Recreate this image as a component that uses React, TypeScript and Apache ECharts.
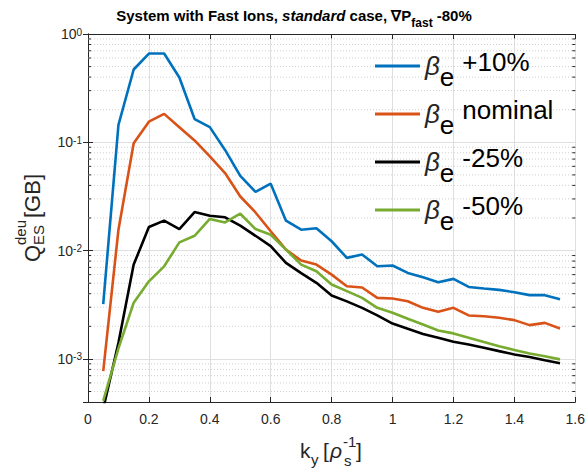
import React, { useEffect, useRef } from "react";
import * as echarts from "echarts";

const kY = [0.05, 0.1, 0.15, 0.2, 0.25, 0.3, 0.35, 0.4, 0.45, 0.5, 0.55, 0.6, 0.65, 0.7, 0.75, 0.8, 0.85, 0.9, 0.95, 1.0, 1.05, 1.1, 1.15, 1.2, 1.25, 1.3, 1.35, 1.4, 1.45, 1.5, 1.55];

const betaPlus10 = [3.2e-3, 0.145, 0.47, 0.66, 0.66, 0.396, 0.164, 0.138, 0.085, 0.049, 0.0348, 0.0415, 0.0189, 0.0156, 0.0161, 0.0122, 0.00857, 0.0092, 0.00716, 0.00728, 0.00622, 0.00567, 0.0051, 0.00548, 0.00462, 0.00446, 0.00434, 0.00413, 0.00388, 0.00388, 0.00356];
const betaNominal = [7.7e-4, 0.0156, 0.098, 0.155, 0.183, 0.138, 0.104, 0.074, 0.052, 0.0316, 0.0225, 0.0151, 0.0102, 0.0081, 0.00743, 0.006, 0.00469, 0.00456, 0.00366, 0.00361, 0.00341, 0.00296, 0.00272, 0.00296, 0.00252, 0.00248, 0.0024, 0.00228, 0.00205, 0.00215, 0.00191];
const betaMinus25 = [3.45e-4, 1.41e-3, 0.00743, 0.0165, 0.0189, 0.0158, 0.0227, 0.021, 0.0203, 0.017, 0.0137, 0.011, 0.0077, 0.0062, 0.00504, 0.00385, 0.0034, 0.00296, 0.00252, 0.00212, 0.0019, 0.0017, 0.00157, 0.00144, 0.00136, 0.00127, 0.00118, 0.0011, 0.00104, 0.00097, 0.00091];
const betaMinus50 = [4.1e-4, 1.25e-3, 0.0033, 0.0052, 0.00716, 0.0119, 0.0137, 0.0196, 0.0182, 0.0219, 0.0158, 0.014, 0.0102, 0.00743, 0.00645, 0.00486, 0.00422, 0.00366, 0.00296, 0.00267, 0.00235, 0.00208, 0.00183, 0.00172, 0.00157, 0.00143, 0.00131, 0.00121, 0.00112, 0.00106, 0.00099];

const seriesNames = ["+10%", "nominal", "-25%", "-50%"];
const seriesColors = ["#0072BD", "#D95319", "#000000", "#77AC30"];
const seriesValues = [betaPlus10, betaNominal, betaMinus25, betaMinus50];

const X_MIN = 0;
const X_MAX = 1.6;
const X_STEP = 0.2;
const Y_MIN = 4e-4;
const Y_MAX = 1;
const minorMultipliers = [2, 3, 4, 5, 6, 7, 8, 9];
const decades = [1e-4, 1e-3, 1e-2, 1e-1];

const FONT = "'Liberation Sans', Arial, Helvetica, sans-serif";
const AX = "#262626";

export default function App() {
  const ref = useRef<HTMLDivElement>(null);
  useEffect(() => {
    document.body.style.margin = "0";
    const chart = echarts.init(ref.current!, null, { renderer: "svg" });

    const minorVals: number[] = [];
    decades.forEach((d) =>
      minorMultipliers.forEach((m) => {
        const v = d * m;
        if (v > Y_MIN * 1.0001 && v < Y_MAX) minorVals.push(v);
      })
    );

    const yFmt = (v: number) => {
      const e = Math.log10(v);
      const r = Math.round(e);
      if (Math.abs(e - r) > 1e-6) return "";
      return `{b|10}{s|${r}}`;
    };

    const lineSeries = seriesNames.map((n, i) => ({
      name: n,
      type: "line",
      data: kY.map((k, j) => [k, seriesValues[i][j]]),
      showSymbol: false,
      symbol: "none",
      lineStyle: { color: seriesColors[i], width: 2.6 },
      itemStyle: { color: seriesColors[i] },
      z: 5,
      clip: true,
    }));

    const option: any = {
      animation: false,
      backgroundColor: "#ffffff",
      textStyle: { fontFamily: FONT },
      title: {
        left: "center",
        top: 2,
        padding: 0,
        text: "{a|System with Fast Ions, }{i|standard}{a| case, ∇P}{s|fast}{a| -80%}",
        textStyle: {
          rich: {
            a: { fontSize: 15, fontWeight: "bold", fontFamily: FONT, color: "#000", lineHeight: 26 },
            i: { fontSize: 15, fontWeight: "bold", fontStyle: "italic", fontFamily: FONT, color: "#000", lineHeight: 26 },
            s: { fontSize: 12, fontWeight: "bold", fontFamily: FONT, color: "#000", lineHeight: 12, padding: [16, 0, 0, 0] },
          },
        },
      },
      grid: { left: 88, top: 34, right: 12, bottom: 68, containLabel: false },
      legend: {
        orient: "vertical",
        left: 375,
        top: 42,
        padding: 0,
        itemWidth: 45,
        itemHeight: 3,
        itemGap: 0,
        icon: "rect",
        selectedMode: false,
        data: seriesNames,
        formatter: (n: string) => `{b|β}{e|e}{t|${n}}`,
        textStyle: {
          rich: {
            b: { fontSize: 26, fontStyle: "italic", fontFamily: FONT, color: "#262626", lineHeight: 30 },
            e: { fontSize: 26, fontFamily: FONT, color: "#000", lineHeight: 26, padding: [22, 8, 0, 0] },
            t: { fontSize: 26, fontFamily: FONT, color: "#000", lineHeight: 26, padding: [0, 0, 8, 0] },
          },
        },
      },
      xAxis: [
        {
          type: "value",
          min: X_MIN,
          max: X_MAX,
          interval: X_STEP,
          position: "bottom",
          axisLine: { show: true, lineStyle: { color: AX, width: 1 } },
          axisTick: { show: true, inside: true, length: 5, lineStyle: { color: AX } },
          axisLabel: { color: AX, fontSize: 14, margin: 10, fontFamily: FONT },
          splitLine: { show: true, lineStyle: { color: "#dfdfdf", width: 1 } },
        },
        {
          type: "value",
          min: X_MIN,
          max: X_MAX,
          interval: X_STEP,
          position: "top",
          axisLine: { show: true, lineStyle: { color: AX, width: 1 } },
          axisTick: { show: true, inside: true, length: 5, lineStyle: { color: AX } },
          axisLabel: { show: false },
          splitLine: { show: false },
        },
      ],
      yAxis: [
        {
          type: "log",
          logBase: 10,
          min: Y_MIN,
          max: Y_MAX,
          position: "left",
          axisLine: { show: true, lineStyle: { color: AX, width: 1 } },
          axisTick: { show: true, inside: true, length: 5, lineStyle: { color: AX } },
          axisLabel: {
            margin: 6,
            formatter: yFmt,
            rich: {
              b: { fontSize: 14, color: AX, fontFamily: FONT, lineHeight: 14, verticalAlign: "bottom", padding: [6, 0, 0, 0] },
              s: { fontSize: 10, color: AX, fontFamily: FONT, lineHeight: 10, verticalAlign: "top" },
            },
          },
          splitLine: { show: true, lineStyle: { color: "#dfdfdf", width: 1 } },
        },
        {
          type: "log",
          logBase: 10,
          min: Y_MIN,
          max: Y_MAX,
          position: "right",
          axisLine: { show: true, lineStyle: { color: AX, width: 1 } },
          axisTick: { show: true, inside: true, length: 5, lineStyle: { color: AX } },
          axisLabel: { show: false },
          splitLine: { show: false },
        },
      ],
      series: [
        {
          type: "custom",
          silent: true,
          z: 1,
          clip: true,
          data: minorVals.map((v) => [X_MIN, v]),
          renderItem: (params: any, api: any) => {
            const v = api.value(1);
            const p0 = api.coord([X_MIN, v]);
            const p1 = api.coord([X_MAX, v]);
            return {
              type: "group",
              children: [
                {
                  type: "line",
                  shape: { x1: p0[0], y1: p0[1], x2: p1[0], y2: p1[1] },
                  style: { stroke: "#cfcfcf", lineWidth: 1, lineDash: [1, 2] },
                },
                {
                  type: "line",
                  shape: { x1: p0[0], y1: p0[1], x2: p0[0] + 3, y2: p0[1] },
                  style: { stroke: AX, lineWidth: 1 },
                },
                {
                  type: "line",
                  shape: { x1: p1[0] - 3, y1: p1[1], x2: p1[0], y2: p1[1] },
                  style: { stroke: AX, lineWidth: 1 },
                },
              ],
            };
          },
        },
        ...lineSeries,
      ],
      graphic: [
        {
          type: "group",
          x: 38,
          y: 262,
          rotation: Math.PI / 2,
          children: [
            { type: "text", x: 0, y: 5, style: { text: "Q", font: `22px ${FONT}`, fill: AX, verticalAlign: "bottom" } },
            { type: "text", x: 17, y: -10, style: { text: "deu", font: `15px ${FONT}`, fill: AX, verticalAlign: "bottom" } },
            { type: "text", x: 17, y: 8, style: { text: "ES", font: `15px ${FONT}`, fill: AX, verticalAlign: "bottom" } },
            { type: "text", x: 44, y: 5, style: { text: "[GB]", font: `22px ${FONT}`, fill: AX, verticalAlign: "bottom" } },
          ],
        },
        { type: "text", x: 300, y: 461, style: { text: "k", font: `21px ${FONT}`, fill: AX, verticalAlign: "bottom" } },
        { type: "text", x: 311, y: 467, style: { text: "y", font: `15px ${FONT}`, fill: AX, verticalAlign: "bottom" } },
        { type: "text", x: 323, y: 461, style: { text: "[", font: `21px ${FONT}`, fill: AX, verticalAlign: "bottom" } },
        { type: "text", x: 330, y: 461, style: { text: "ρ", font: `italic 21px ${FONT}`, fill: AX, verticalAlign: "bottom" } },
        { type: "text", x: 343, y: 449, style: { text: "-1", font: `15px ${FONT}`, fill: AX, verticalAlign: "bottom" } },
        { type: "text", x: 344, y: 468, style: { text: "s", font: `15px ${FONT}`, fill: AX, verticalAlign: "bottom" } },
        { type: "text", x: 356, y: 461, style: { text: "]", font: `21px ${FONT}`, fill: AX, verticalAlign: "bottom" } },
      ],
    };
    chart.setOption(option);
    return () => chart.dispose();
  }, []);
  return <div ref={ref} style={{ width: 588, height: 470 }} />;
}
